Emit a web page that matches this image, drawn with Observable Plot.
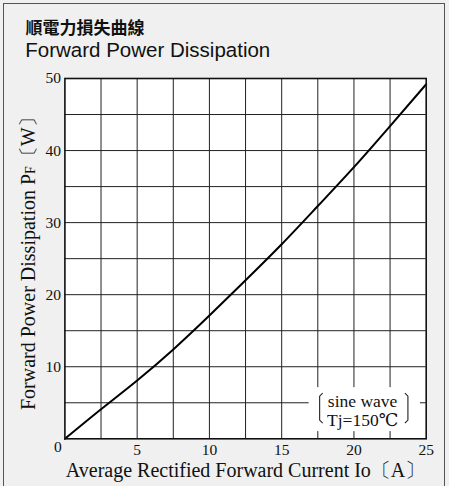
<!DOCTYPE html>
<html><head><meta charset="utf-8">
<script src="https://cdn.jsdelivr.net/npm/d3@7"></script>
<script src="https://cdn.jsdelivr.net/npm/@observablehq/plot@0.6"></script>
<style>
body{margin:0;background:#f4f5f4;}
#wrap{position:relative;width:449px;height:486px;overflow:hidden;background:#eff0ef;}
#border{position:absolute;left:3px;top:3px;width:442px;height:520px;border:1px solid #555;box-sizing:border-box;border-width:1.3px;}
#chart{position:absolute;left:0;top:0;}
</style></head><body>
<div id="wrap"><div id="border"></div><div id="chart"></div></div>
<script>
const titleZh = "順電力損失曲線";
const titleEn = "Forward Power Dissipation";
const current = [0, 2.5, 5, 7.5, 10, 12.5, 15, 17.5, 20, 22.5, 25];
const power = [0, 4.1, 8.1, 12.4, 17.1, 22.0, 27.0, 32.3, 37.7, 43.4, 49.2];
const xTicks = [5, 10, 15, 20, 25];
const yTicks = [10, 20, 30, 40, 50];
const xGrid = [2.5, 5, 7.5, 10, 12.5, 15, 17.5, 20, 22.5];
const yGrid = [5, 10, 15, 20, 25, 30, 35, 40, 45];
const noteText = ["sine wave", "Tj=150℃"];
const noteBox = [{x1: 16.9, x2: 24.6, y1: 1.0, y2: 7.1}];
const notePos = [{x: 20.6, y: 3.95}];
const xLabel = "Average Rectified Forward Current Io〔A〕";
const yLabelMain = "Forward Power Dissipation P";
const yLabelSub = "F";
const yLabelUnit = "〔W〕";

(function () {
const data = current.map((c, i) => ({current: c, power: power[i]}));
const serif = "Liberation Serif, DejaVu Serif, serif";

const plot = Plot.plot({
  width: 449, height: 486,
  marginLeft: 64.4, marginRight: 23.3, marginTop: 78, marginBottom: 47.7,
  style: {background: "transparent", fontFamily: serif, fontSize: "15.5px", color: "#111"},
  x: {domain: [0, 25]},
  y: {domain: [0, 50]},
  marks: [
    Plot.frame({fill: "white"}),
    Plot.ruleX(xGrid, {stroke: "#222", strokeWidth: 1}),
    Plot.ruleY(yGrid, {stroke: "#222", strokeWidth: 1}),
    Plot.rect(noteBox, {x1: "x1", x2: "x2", y1: "y1", y2: "y2", fill: "white"}),
    Plot.line(data, {x: "current", y: "power", curve: "natural", stroke: "#000", strokeWidth: 2}),
    Plot.frame({stroke: "#111", strokeWidth: 1.6}),
    Plot.axisX(xTicks, {tickSize: 0, tickPadding: 5, label: null, fontSize: 15.5}),
    Plot.axisY(yTicks, {tickSize: 0, tickPadding: 4, label: null, fontSize: 15.5}),
    Plot.text([0], {x: 0, y: 0, text: d => String(d), dx: -7, dy: 8, fontSize: 15.5, textAnchor: "middle"}),
    Plot.text([xLabel], {frameAnchor: "bottom", text: d => d, dy: 32, fontSize: 20, lineAnchor: "middle"}),
    Plot.text([yLabelMain], {frameAnchor: "left", text: d => d, dx: -36, rotate: -90, textAnchor: "middle", fontSize: 20, className: "ylab"}),
    Plot.text(notePos, {x: "x", y: "y", text: () => noteText.join("\n"), lineHeight: 1.1, fontSize: 17.5, className: "note"}),
    Plot.text([titleZh], {frameAnchor: "top-left", text: d => d, dx: -39.4, dy: -49.5, lineAnchor: "middle", textAnchor: "start", fontFamily: "Noto Sans CJK TC", fontWeight: 700, fontSize: 17, fill: "#111"}),
    Plot.text([titleEn], {frameAnchor: "top-left", text: d => d, dx: -39.6, dy: -28.5, lineAnchor: "middle", textAnchor: "start", fontFamily: "Liberation Sans", fontSize: 20.5, fill: "#111"})
  ]
});
document.getElementById("chart").appendChild(plot);

// subscript and unit on the y label
const yl = d3.select(plot).select("g.ylab text");
yl.text(null);
yl.append("tspan").text(yLabelMain);
yl.append("tspan").attr("font-size", "14px").text(yLabelSub);
yl.append("tspan").text(yLabelUnit);

// brackets around the note, positioned from the scales
const sx = plot.scale("x"), sy = plot.scale("y");
const b = noteBox[0];
const yTop = sy.apply(b.y2) + 6, yBot = sy.apply(b.y1) - 8;
const lx = sx.apply(b.x1) + 11, rx = sx.apply(b.x2) - 12;
const g = d3.select(plot).append("g").attr("fill", "none").attr("stroke", "#222").attr("stroke-width", 1.1);
g.append("path").attr("d", `M${lx+3},${yTop} L${lx},${yTop+3} L${lx},${yBot-3} L${lx+3},${yBot}`);
g.append("path").attr("d", `M${rx-3},${yTop} L${rx},${yTop+3} L${rx},${yBot-3} L${rx-3},${yBot}`);
})();
</script>
</body></html>
